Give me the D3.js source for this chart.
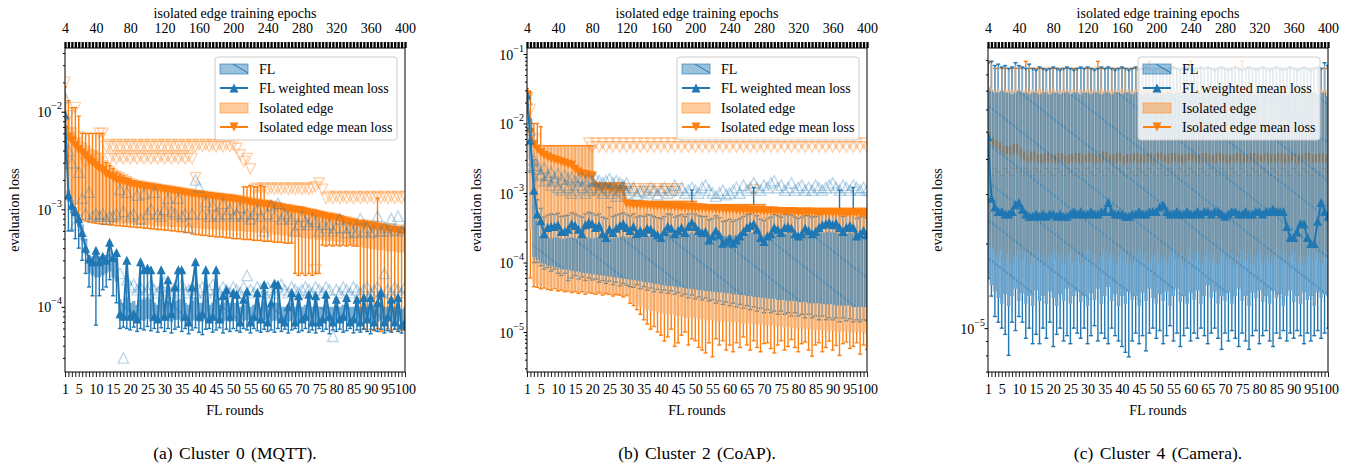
<!DOCTYPE html>
<html>
<head>
<meta charset="utf-8">
<script src="https://cdn.jsdelivr.net/npm/d3@7/dist/d3.min.js"></script>
<style>
  html,body{margin:0;padding:0;background:#fff;}
  svg{display:block;}
  text{font-family:"Liberation Serif","Times New Roman",Times,serif;fill:#000;}
</style>
</head>
<body>
<svg id="chart" width="1358" height="466"></svg>
<script>
const N = null;
const rounds = d3.range(1, 101);
const roundTickLabels = [1,5,10,15,20,25,30,35,40,45,50,55,60,65,70,75,80,85,90,95,100];
const epochTickLabels = [4,40,80,120,160,200,240,280,320,360,400];
const epochTicks = d3.range(4, 401, 4);
const legendLabels = ["FL","FL weighted mean loss","Isolated edge","Isolated edge mean loss"];
const captions = ["(a) Cluster 0 (MQTT).","(b) Cluster 2 (CoAP).","(c) Cluster 4 (Camera)."];

/* ---------------- Cluster 0 (MQTT) ---------------- */
const a_flMean = [9.3e-3,1.4e-3,1.1e-3,9.5e-4,8e-4,5.8e-4,4e-4,3.1e-4,2.9e-4,3.8e-4,
2.9e-4,3.3e-4,3e-4,4.6e-4,3.2e-4,3.6e-4,8.5e-5,8e-5,3e-4,8e-5,
8.5e-5,7.5e-5,2.9e-4,2.4e-4,2.5e-4,2.4e-4,8e-5,7.5e-5,2.4e-4,8e-5,
1.9e-4,8.5e-5,1.6e-4,2.4e-4,2.4e-4,8e-5,7e-5,1.6e-4,2.9e-4,8e-5,
8.5e-5,2.4e-4,7.5e-5,8e-5,2.4e-4,7.5e-5,1.3e-4,1.5e-4,8e-5,1.4e-4,
1.35e-4,7e-5,1.2e-4,1.45e-4,7e-5,8e-5,1.4e-4,7.5e-5,1.7e-4,7e-5,
1.1e-4,1.75e-4,1.7e-4,7.5e-5,7e-5,1e-4,1.4e-4,7e-5,1.3e-4,7.5e-5,
8e-5,1.35e-4,7e-5,1.3e-4,7e-5,7.5e-5,1.35e-4,8e-5,7e-5,1.2e-4,
7.5e-5,8e-5,1.25e-4,7e-5,7.5e-5,1.2e-4,7e-5,1.25e-4,7.5e-5,1.25e-4,
7e-5,1.1e-4,1.4e-4,7e-5,8e-5,1.2e-4,7e-5,1.25e-4,6.5e-5,7e-5];
const a_flErrLo = [4e-3,6e-4,6e-4,5e-4,4e-4,3e-4,2.2e-4,1.6e-4,1.3e-4,6.5e-5,
1.3e-4,1.5e-4,1.6e-4,1.9e-4,1.3e-4,1.1e-4,6e-5,6.2e-5,6e-5,5.8e-5,
6.2e-5,5.6e-5,6e-5,5.8e-5,6.3e-5,5.7e-5,6e-5,5.5e-5,6.1e-5,5.6e-5,
6e-5,5.4e-5,5.9e-5,6.2e-5,5.6e-5,6e-5,5.3e-5,5.8e-5,6.1e-5,5.5e-5,
5.2e-5,5.9e-5,6e-5,5.5e-5,5.8e-5,6.1e-5,5.4e-5,5.9e-5,5.6e-5,6e-5,
5.7e-5,5.5e-5,6e-5,5.8e-5,5.4e-5,6e-5,5.7e-5,5.5e-5,5.9e-5,5.6e-5,
5.8e-5,5.5e-5,6e-5,5.6e-5,5.9e-5,5.4e-5,5.8e-5,6e-5,5.5e-5,5.7e-5,
6e-5,5.5e-5,5.8e-5,5.4e-5,6e-5,5.6e-5,5.9e-5,5.3e-5,5.8e-5,5.6e-5,
5.9e-5,5.5e-5,5.7e-5,6e-5,5.4e-5,5.8e-5,5.5e-5,5.9e-5,5.6e-5,5.3e-5,
5.8e-5,5.6e-5,5.9e-5,5.4e-5,5.7e-5,5.5e-5,5.9e-5,5.6e-5,5.4e-5,5.8e-5];
const a_flBandLo = [8e-3,1.2e-3,9e-4,8e-4,6.5e-4,4.8e-4,3.5e-4,2.2e-4,2.1e-4,2e-4,
2e-4,2.1e-4,2.2e-4,2.3e-4,2e-4,1.8e-4,7.5e-5,7.2e-5,7.4e-5,7.2e-5,
7.3e-5,7e-5,7.4e-5,7.2e-5,7.5e-5,7.1e-5,7.3e-5,7e-5,7.4e-5,7.2e-5,
7.2e-5,7e-5,7.3e-5,7.4e-5,7.1e-5,7.2e-5,6.9e-5,7.2e-5,7.4e-5,7e-5,
7.1e-5,7.3e-5,7e-5,7.2e-5,7.3e-5,7e-5,7.1e-5,7.3e-5,7e-5,7.2e-5,
7.1e-5,6.9e-5,7.2e-5,7.3e-5,6.9e-5,7.1e-5,7.2e-5,7e-5,7.3e-5,6.9e-5,
7.1e-5,7.2e-5,7.2e-5,7e-5,6.9e-5,7.1e-5,7.2e-5,6.9e-5,7.1e-5,7e-5,
7.1e-5,7.2e-5,6.9e-5,7.1e-5,6.9e-5,7e-5,7.2e-5,7e-5,6.9e-5,7.1e-5,
7e-5,7.1e-5,7.2e-5,6.9e-5,7e-5,7.1e-5,6.9e-5,7.2e-5,7e-5,7.1e-5,
6.9e-5,7e-5,7.2e-5,6.9e-5,7e-5,7.1e-5,6.9e-5,7.1e-5,6.6e-5,6.9e-5];
const a_flBandHi = [1e-2,1.6e-3,1.25e-3,1.05e-3,9e-4,7e-4,5e-4,3.4e-4,3.3e-4,3.4e-4,
3.3e-4,3.4e-4,3.4e-4,3.5e-4,3.3e-4,3.1e-4,1.2e-4,1.1e-4,1.25e-4,1.1e-4,
1.15e-4,1.05e-4,1.2e-4,1.2e-4,1.25e-4,1.2e-4,1.1e-4,1.05e-4,1.2e-4,1.1e-4,
1.15e-4,1.1e-4,1.15e-4,1.2e-4,1.2e-4,1.1e-4,1.05e-4,1.15e-4,1.25e-4,1.1e-4,
1.1e-4,1.2e-4,1.05e-4,1.1e-4,1.2e-4,1.05e-4,1.1e-4,1.15e-4,1.1e-4,1.1e-4,
1.1e-4,1e-4,1.05e-4,1.1e-4,1e-4,1.05e-4,1.1e-4,1e-4,1.1e-4,1e-4,
1.05e-4,1.1e-4,1.1e-4,1e-4,1e-4,1.05e-4,1.1e-4,1e-4,1.05e-4,1e-4,
1.05e-4,1.1e-4,1e-4,1.05e-4,1e-4,1e-4,1.05e-4,1e-4,1e-4,1.05e-4,
1e-4,1.05e-4,1.05e-4,1e-4,1e-4,1.05e-4,1e-4,1.05e-4,1e-4,1.05e-4,
1e-4,1.05e-4,1.1e-4,1e-4,1e-4,1.05e-4,1e-4,1.05e-4,9.5e-5,1e-4];
const a_flPts1 = [1.4e-2,4e-3,3e-3,7e-4,2.4e-3,1.3e-3,9e-4,1.5e-3,8.5e-4,9e-4,
8.5e-4,9e-4,8e-4,8.5e-4,8.5e-4,9e-4,1.6e-3,9.5e-4,1.5e-3,8.5e-4,
9e-4,1.4e-3,8e-4,1.45e-3,9e-4,1e-3,1.5e-3,9e-4,8.5e-4,1e-3,
1.3e-3,9.5e-4,9e-4,1.3e-3,8.5e-4,9e-4,6.5e-4,9e-4,2e-3,1.7e-3,
9e-4,1.2e-3,8.5e-4,1.1e-3,9e-4,8.5e-4,1.15e-3,9e-4,1e-3,8.5e-4,
9e-4,1.05e-3,8.5e-4,9e-4,8e-4,9e-4,1e-3,8.5e-4,6e-4,9e-4,
1.1e-3,8.5e-4,1.15e-3,8e-4,9e-4,8.5e-4,8e-4,6e-4,7e-4,8.5e-4,
7.5e-4,7e-4,8e-4,7.5e-4,6e-4,7e-4,6.5e-4,7e-4,6e-4,6.5e-4,
8e-4,6.5e-4,5.8e-4,6.5e-4,6e-4,5.8e-4,8e-4,6e-4,6.5e-4,5.8e-4,
6e-4,8.5e-4,6e-4,6.5e-4,6e-4,8e-4,6.2e-4,8.5e-4,6e-4,6.5e-4];
const a_flPts2 = [N,N,N,N,N,N,N,N,N,N,
N,N,N,N,N,N,2.2e-4,3e-5,1.9e-4,1.6e-4,
1.7e-4,1.5e-4,1.6e-4,1.4e-4,1.5e-4,1.7e-4,1.5e-4,1.4e-4,1.6e-4,1.8e-4,
1.5e-4,1.4e-4,1.6e-4,1.5e-4,1.7e-4,1.4e-4,1.5e-4,1.6e-4,1.4e-4,1.5e-4,
1.6e-4,1.4e-4,1.5e-4,1.7e-4,1.5e-4,1.4e-4,1.6e-4,1.5e-4,1.4e-4,1.6e-4,
1.5e-4,1.4e-4,1.6e-4,2.1e-4,1.5e-4,1.4e-4,1.6e-4,1.5e-4,1.4e-4,1.6e-4,
1.5e-4,1.4e-4,1.6e-4,1.7e-4,1.5e-4,1.4e-4,1.6e-4,1.5e-4,1.4e-4,1.5e-4,
1.6e-4,1.5e-4,1.4e-4,1.6e-4,1.5e-4,1.4e-4,1.6e-4,1.5e-4,5e-5,1.5e-4,
1.4e-4,1.6e-4,1.5e-4,1.4e-4,1.6e-4,1.5e-4,1.4e-4,1.5e-4,1.6e-4,1.4e-4,
1.5e-4,1.6e-4,1.4e-4,2.2e-4,1.5e-4,1.4e-4,1.6e-4,1.5e-4,1.4e-4,1.6e-4];
const a_edgeMean = [6.5e-3,5.5e-3,5e-3,4.5e-3,4.1e-3,3.8e-3,3.5e-3,3.2e-3,3e-3,2.8e-3,
2.6e-3,2.5e-3,2.3e-3,2.2e-3,2.1e-3,2e-3,1.95e-3,1.9e-3,1.85e-3,1.8e-3,
1.78e-3,1.75e-3,1.72e-3,1.7e-3,1.68e-3,1.66e-3,1.64e-3,1.62e-3,1.6e-3,1.58e-3,
1.56e-3,1.54e-3,1.52e-3,1.5e-3,1.48e-3,1.46e-3,1.44e-3,1.42e-3,1.41e-3,1.4e-3,
1.38e-3,1.36e-3,1.35e-3,1.33e-3,1.32e-3,1.31e-3,1.3e-3,1.28e-3,1.27e-3,1.26e-3,
1.24e-3,1.22e-3,1.2e-3,1.18e-3,1.16e-3,1.15e-3,1.13e-3,1.12e-3,1.11e-3,1.1e-3,
1.08e-3,1.06e-3,1.05e-3,1.03e-3,1.01e-3,1e-3,9.8e-4,9.7e-4,9.6e-4,9.5e-4,
9.3e-4,9.1e-4,9e-4,8.8e-4,8.6e-4,8.5e-4,8.3e-4,8.2e-4,8.1e-4,8e-4,
7.8e-4,7.6e-4,7.4e-4,7.3e-4,7.2e-4,7e-4,6.9e-4,6.9e-4,6.8e-4,6.7e-4,
6.6e-4,6.5e-4,6.4e-4,6.3e-4,6.2e-4,6.1e-4,6e-4,6e-4,5.9e-4,5.8e-4];
const a_edgeBandLo = [2.5e-3,1.6e-3,1.3e-3,1.1e-3,9.5e-4,8.5e-4,8e-4,7.8e-4,7.6e-4,7.5e-4,
7.4e-4,7.4e-4,7.3e-4,7.3e-4,7.2e-4,7.2e-4,7.2e-4,7.1e-4,7.1e-4,7e-4,
7e-4,7e-4,6.9e-4,6.9e-4,6.9e-4,6.8e-4,6.8e-4,6.8e-4,6.7e-4,6.7e-4,
6.7e-4,6.6e-4,6.6e-4,6.6e-4,6.5e-4,6.5e-4,6.5e-4,6.4e-4,6.4e-4,6.4e-4,
6.3e-4,6.3e-4,6.3e-4,6.2e-4,6.2e-4,6.2e-4,6.1e-4,6.1e-4,6.1e-4,6e-4,
6e-4,6e-4,5.9e-4,5.9e-4,5.9e-4,5.8e-4,5.8e-4,5.7e-4,5.7e-4,5.6e-4,
5.6e-4,5.5e-4,5.5e-4,5.4e-4,5.4e-4,5.3e-4,5.3e-4,5.2e-4,5.2e-4,5.1e-4,
5.1e-4,5e-4,5e-4,4.9e-4,4.9e-4,4.8e-4,4.8e-4,4.7e-4,4.7e-4,4.6e-4,
4.6e-4,4.5e-4,4.5e-4,4.4e-4,4.3e-4,4.2e-4,4.1e-4,4e-4,4e-4,3.9e-4,
3.9e-4,3.8e-4,3.8e-4,3.8e-4,3.7e-4,3.7e-4,3.7e-4,3.6e-4,3.6e-4,3.6e-4];
const a_edgeBandHi = [1.5e-2,9e-3,7e-3,6e-3,5.5e-3,5e-3,4.8e-3,4.5e-3,4.2e-3,4e-3,
3.8e-3,3.5e-3,3.2e-3,3e-3,2.8e-3,2.6e-3,2.5e-3,2.4e-3,2.3e-3,2.2e-3,
2.1e-3,2.05e-3,2e-3,1.98e-3,1.95e-3,1.92e-3,1.9e-3,1.88e-3,1.85e-3,1.82e-3,
1.8e-3,1.78e-3,1.75e-3,1.73e-3,1.7e-3,1.68e-3,1.66e-3,1.64e-3,1.62e-3,1.6e-3,
1.58e-3,1.57e-3,1.55e-3,1.53e-3,1.52e-3,1.5e-3,1.49e-3,1.47e-3,1.46e-3,1.45e-3,
1.43e-3,1.41e-3,1.39e-3,1.37e-3,1.35e-3,1.33e-3,1.31e-3,1.3e-3,1.28e-3,1.27e-3,
1.25e-3,1.23e-3,1.21e-3,1.19e-3,1.17e-3,1.15e-3,1.13e-3,1.12e-3,1.1e-3,1.09e-3,
1.07e-3,1.05e-3,1.04e-3,1.02e-3,1e-3,9.8e-4,9.6e-4,9.5e-4,9.4e-4,9.2e-4,
9e-4,8.8e-4,8.6e-4,8.5e-4,8.3e-4,8.1e-4,8e-4,8e-4,7.9e-4,7.8e-4,
7.7e-4,7.6e-4,7.5e-4,7.4e-4,7.3e-4,7.2e-4,7.1e-4,7e-4,7e-4,6.9e-4];
const a_edgeErrLo = [3e-3,1.5e-3,1e-3,9e-4,8e-4,7.8e-4,7.6e-4,7.4e-4,7.3e-4,7.2e-4,
7.1e-4,7e-4,7e-4,6.9e-4,6.9e-4,6.8e-4,6.8e-4,6.7e-4,6.7e-4,6.6e-4,
6.6e-4,6.5e-4,6.5e-4,6.4e-4,6.4e-4,6.3e-4,6.3e-4,6.2e-4,6.2e-4,6.1e-4,
6.1e-4,6e-4,6e-4,5.9e-4,5.9e-4,5.8e-4,5.8e-4,5.6e-4,5.5e-4,5.5e-4,
5.4e-4,5.4e-4,5.3e-4,5.3e-4,5.2e-4,5.2e-4,5.2e-4,5.1e-4,5.1e-4,5e-4,
5e-4,5e-4,4.9e-4,4.9e-4,4.9e-4,4.8e-4,4.8e-4,4.8e-4,4.7e-4,4.7e-4,
4.7e-4,4.6e-4,4.6e-4,4.6e-4,4.5e-4,4.5e-4,4.5e-4,2.2e-4,2.1e-4,2.2e-4,
2.1e-4,2.2e-4,2.1e-4,2.2e-4,2.2e-4,4.3e-4,4.2e-4,4.3e-4,4.2e-4,4.3e-4,
4.2e-4,4.3e-4,4.2e-4,4.3e-4,4.2e-4,4.2e-4,5.8e-5,6e-5,5.6e-5,5.9e-5,
5.7e-5,6e-5,5.6e-5,5.8e-5,6e-5,5.7e-5,5.9e-5,5.6e-5,5.8e-5,6e-5];
const a_edgeErrHi = [1.8e-2,1.3e-2,1.1e-2,1.1e-2,9e-3,6e-3,6e-3,6e-3,6e-3,6e-3,
6e-3,6e-3,3e-3,2.8e-3,2.6e-3,2.4e-3,2.3e-3,2.2e-3,2.1e-3,2.05e-3,
1.95e-3,1.92e-3,1.9e-3,1.87e-3,1.85e-3,1.83e-3,1.8e-3,1.78e-3,1.76e-3,1.74e-3,
1.72e-3,1.7e-3,1.67e-3,1.65e-3,1.63e-3,1.6e-3,1.58e-3,1.56e-3,1.55e-3,1.54e-3,
1.52e-3,1.5e-3,1.48e-3,1.46e-3,1.45e-3,1.44e-3,1.43e-3,1.41e-3,1.4e-3,1.39e-3,
1.37e-3,1.35e-3,1.7e-3,1.7e-3,1.75e-3,1.7e-3,1.7e-3,1.75e-3,1.7e-3,1.22e-3,
1.2e-3,1.17e-3,1.15e-3,1.13e-3,1.11e-3,1.1e-3,1.08e-3,1.07e-3,1.06e-3,1.05e-3,
1.03e-3,1e-3,9.9e-4,9.7e-4,9.5e-4,9.4e-4,9.1e-4,9e-4,8.9e-4,8.8e-4,
8.6e-4,8.4e-4,8.1e-4,8e-4,7.9e-4,7.7e-4,7.6e-4,7.6e-4,7.5e-4,7.4e-4,
7.3e-4,1.3e-3,7e-4,6.9e-4,6.8e-4,6.7e-4,6.6e-4,6.6e-4,6.5e-4,6.4e-4];
const a_edgePts1 = [2e-2,9e-3,6e-3,1.1e-2,5.5e-3,3.5e-3,3e-3,3.2e-3,3.5e-3,3.3e-3,
6e-3,6e-3,4.4e-3,4.6e-3,4.4e-3,4.6e-3,4.4e-3,4.6e-3,4.4e-3,4.6e-3,
4.4e-3,4.6e-3,4.4e-3,4.6e-3,4.4e-3,4.6e-3,4.4e-3,4.6e-3,4.4e-3,4.6e-3,
4.4e-3,4.6e-3,4.4e-3,4.6e-3,4.4e-3,4.6e-3,4.4e-3,4.6e-3,4.4e-3,4.6e-3,
4.4e-3,4.6e-3,4.4e-3,4.6e-3,4.4e-3,4.6e-3,4.4e-3,4.6e-3,4.4e-3,4.6e-3,
4.2e-3,3.6e-3,3.1e-3,3.3e-3,2.6e-3,1.6e-3,1.65e-3,1.6e-3,1.65e-3,1.6e-3,
1.65e-3,1.6e-3,1.65e-3,1.6e-3,1.65e-3,1.6e-3,1.65e-3,1.6e-3,1.65e-3,1.6e-3,
1.65e-3,1.6e-3,1.65e-3,1.7e-3,1.85e-3,1.6e-3,1.3e-3,1.35e-3,1.3e-3,1.35e-3,
1.3e-3,1.35e-3,1.3e-3,1.35e-3,1.3e-3,1.35e-3,1.3e-3,1.35e-3,1.3e-3,1.35e-3,
1.3e-3,1.35e-3,1.3e-3,1.35e-3,1.3e-3,1.35e-3,1.3e-3,1.35e-3,1.3e-3,1.35e-3];
const a_edgePts2 = [N,N,N,N,N,N,N,N,N,N,
N,N,N,3.3e-3,3.5e-3,3.3e-3,3.5e-3,3.3e-3,3.5e-3,3.3e-3,
3.5e-3,3.3e-3,3.5e-3,3.3e-3,3.5e-3,3.3e-3,3.5e-3,3.3e-3,3.5e-3,3.3e-3,
3.5e-3,3.3e-3,3.5e-3,3.3e-3,3.5e-3,3.3e-3,3.5e-3,3.3e-3,2.1e-3,N,
N,N,N,N,N,N,N,N,N,N,
N,N,N,N,N,N,N,N,N,N,
N,N,N,N,N,N,N,N,N,N,
N,N,N,2.4e-4,N,N,N,N,N,N,
N,N,N,N,N,N,N,N,N,N,
N,N,N,N,N,N,N,N,N,N];

/* ---------------- Cluster 2 (CoAP) ---------------- */
const b_flMean = [2.6e-2,5.8e-3,1.1e-3,5e-4,4e-4,2.6e-4,3.2e-4,3.3e-4,3.3e-4,3.5e-4,
2.8e-4,2.8e-4,3e-4,3.6e-4,3.4e-4,3e-4,2.6e-4,3.5e-4,3.8e-4,3.6e-4,
3.2e-4,3.4e-4,2.6e-4,2.3e-4,3e-4,2.7e-4,3.1e-4,3.4e-4,3.6e-4,3.2e-4,
2.9e-4,3.3e-4,2.6e-4,2.9e-4,2.7e-4,3.1e-4,3e-4,2.7e-4,2.5e-4,2.3e-4,
2.8e-4,3.3e-4,3.1e-4,2.6e-4,2.9e-4,3.2e-4,2.7e-4,3.3e-4,3.8e-4,3.3e-4,
2.9e-4,2.7e-4,2.8e-4,2.1e-4,2.4e-4,2.9e-4,2.5e-4,1.9e-4,2e-4,2.2e-4,
1.9e-4,2.1e-4,2.4e-4,2.8e-4,3.2e-4,3.4e-4,3.6e-4,3e-4,2.3e-4,2e-4,
2.4e-4,2.6e-4,3.2e-4,3e-4,2.7e-4,3.2e-4,3.3e-4,3.1e-4,2.6e-4,2.4e-4,
2.6e-4,3.1e-4,2.9e-4,2.6e-4,2.8e-4,3.2e-4,3.5e-4,3.6e-4,3.8e-4,3.5e-4,
3.7e-4,3.2e-4,2.8e-4,3.2e-4,3.4e-4,3.2e-4,2.4e-4,2.6e-4,2.9e-4,2.5e-4];
const b_flErrHi = [3e-2,1e-2,3e-3,8e-4,6e-4,4.5e-4,4.8e-4,5e-4,4.9e-4,5.1e-4,
4.6e-4,4.7e-4,4.8e-4,5.2e-4,5e-4,4.7e-4,4.5e-4,5e-4,5.3e-4,5.1e-4,
4.8e-4,5e-4,4.5e-4,4.3e-4,6.2e-4,4.6e-4,4.8e-4,5e-4,5.2e-4,4.9e-4,
4.7e-4,5e-4,4.5e-4,4.7e-4,4.6e-4,4.9e-4,4.8e-4,4.6e-4,4.4e-4,4.3e-4,
4.6e-4,5e-4,4.9e-4,4.5e-4,4.7e-4,4.9e-4,4.6e-4,5e-4,1.1e-3,5e-4,
4.7e-4,4.6e-4,4.6e-4,4.1e-4,4.3e-4,4.7e-4,4.4e-4,3.9e-4,4e-4,4.2e-4,
3.9e-4,4.1e-4,4.3e-4,4.6e-4,4.9e-4,5e-4,1.2e-3,4.7e-4,4.2e-4,4e-4,
4.3e-4,4.5e-4,4.9e-4,4.7e-4,4.5e-4,4.9e-4,5e-4,4.8e-4,4.5e-4,4.3e-4,
4.5e-4,4.8e-4,4.7e-4,4.5e-4,4.6e-4,4.9e-4,5.1e-4,5.2e-4,5.4e-4,5.1e-4,
5.3e-4,1.1e-3,4.6e-4,4.9e-4,5.1e-4,1.2e-3,4.3e-4,4.5e-4,4.7e-4,4.4e-4];
const b_flErrLo = [1.5e-2,2e-3,1e-4,1e-4,9e-5,8e-5,8.5e-5,7.5e-5,8e-5,7e-5,
6.5e-5,7e-5,5.5e-5,6e-5,6.5e-5,5.8e-5,6.2e-5,5.5e-5,6e-5,5.6e-5,
5.8e-5,5.2e-5,5.5e-5,5e-5,5.4e-5,4.8e-5,5.2e-5,4.6e-5,5e-5,4.7e-5,
4.5e-5,4.4e-5,4.8e-5,4.2e-5,4.5e-5,4e-5,4.3e-5,3.8e-5,4.1e-5,3.7e-5,
4e-5,3.6e-5,3.9e-5,3.5e-5,3.7e-5,3.3e-5,3.5e-5,3.1e-5,3.4e-5,3e-5,
3.2e-5,2.9e-5,3.1e-5,2.8e-5,2.9e-5,2.6e-5,2.8e-5,2.5e-5,2.7e-5,2.4e-5,
2.6e-5,2.3e-5,2.5e-5,2.2e-5,2.4e-5,2.1e-5,2.3e-5,2e-5,2.2e-5,1.9e-5,
2.1e-5,1.9e-5,2e-5,1.8e-5,2e-5,1.8e-5,1.9e-5,1.7e-5,1.9e-5,1.7e-5,
1.8e-5,1.6e-5,1.8e-5,1.6e-5,1.7e-5,1.5e-5,1.7e-5,1.5e-5,1.6e-5,1.5e-5,
1.6e-5,1.4e-5,1.6e-5,1.45e-5,1.55e-5,1.4e-5,1.5e-5,1.4e-5,1.5e-5,1.45e-5];
const b_flBandLo = [1.5e-2,3e-3,1.2e-4,1.1e-4,1e-4,9.5e-5,9e-5,9e-5,8.5e-5,8.5e-5,
8e-5,8e-5,7.8e-5,7.6e-5,7.5e-5,7.4e-5,7.2e-5,7e-5,7e-5,6.8e-5,
6.7e-5,6.6e-5,6.5e-5,6.4e-5,6.3e-5,6.2e-5,6.1e-5,6e-5,5.9e-5,5.8e-5,
5.7e-5,5.6e-5,5.5e-5,5.4e-5,5.3e-5,5.2e-5,5.1e-5,5e-5,4.9e-5,4.8e-5,
4.7e-5,4.6e-5,4.6e-5,4.5e-5,4.4e-5,4.4e-5,4.3e-5,4.2e-5,4.2e-5,4.1e-5,
4e-5,4e-5,3.9e-5,3.9e-5,3.8e-5,3.8e-5,3.7e-5,3.7e-5,3.6e-5,3.6e-5,
3.5e-5,3.5e-5,3.4e-5,3.4e-5,3.3e-5,3.3e-5,3.2e-5,3.2e-5,3.1e-5,3.1e-5,
3e-5,3e-5,3e-5,2.9e-5,2.9e-5,2.9e-5,2.8e-5,2.8e-5,2.8e-5,2.7e-5,
2.7e-5,2.7e-5,2.6e-5,2.6e-5,2.6e-5,2.6e-5,2.5e-5,2.5e-5,2.5e-5,2.5e-5,
2.4e-5,2.4e-5,2.4e-5,2.4e-5,2.4e-5,2.3e-5,2.3e-5,2.3e-5,2.3e-5,2.3e-5];
const b_flBandHi = [2.8e-2,1.2e-2,2e-3,4e-4,2.4e-4,2.3e-4,2.3e-4,2.2e-4,2.3e-4,2.3e-4,
2.2e-4,2.2e-4,2.3e-4,2.3e-4,2.2e-4,2.3e-4,2.2e-4,2.3e-4,2.3e-4,2.2e-4,
2.3e-4,2.3e-4,2.2e-4,2.1e-4,2.3e-4,2.2e-4,2.3e-4,2.3e-4,2.4e-4,2.3e-4,
2.3e-4,2.4e-4,2.2e-4,2.3e-4,2.3e-4,2.4e-4,2.3e-4,2.3e-4,2.2e-4,2.2e-4,
2.5e-4,2.6e-4,2.6e-4,2.5e-4,2.6e-4,2.6e-4,2.5e-4,2.6e-4,2.7e-4,2.6e-4,
2.6e-4,2.5e-4,2.6e-4,2.4e-4,2.5e-4,2.6e-4,2.5e-4,2.4e-4,2.4e-4,2.5e-4,
2.4e-4,2.5e-4,2.5e-4,2.6e-4,2.6e-4,2.7e-4,2.7e-4,2.6e-4,2.5e-4,2.4e-4,
2.5e-4,2.6e-4,2.6e-4,2.6e-4,2.6e-4,2.6e-4,2.7e-4,2.6e-4,2.5e-4,2.5e-4,
2.6e-4,2.6e-4,2.6e-4,2.5e-4,2.6e-4,2.7e-4,2.7e-4,2.7e-4,2.8e-4,2.7e-4,
2.7e-4,2.6e-4,2.6e-4,2.6e-4,2.7e-4,2.6e-4,2.5e-4,2.5e-4,2.6e-4,2.5e-4];
const b_flPts1 = [2.2e-2,8e-3,3e-3,2.5e-3,1.8e-3,1.5e-3,1.6e-3,1.3e-3,1.5e-3,1.2e-3,
1.1e-3,1.3e-3,1.2e-3,1e-3,1.1e-3,1.3e-3,1.2e-3,1e-3,1.1e-3,1.2e-3,
1.3e-3,1.1e-3,1e-3,1.2e-3,1.1e-3,1e-3,9e-4,1.1e-3,1.2e-3,1e-3,
1.1e-3,1.2e-3,9.5e-4,1.05e-3,1.1e-3,1e-3,1.2e-3,1.1e-3,9.5e-4,1.1e-3,
1.2e-3,1e-3,1.1e-3,1.3e-3,1.1e-3,1.2e-3,1e-3,1.1e-3,1.2e-3,1.1e-3,
1e-3,1.2e-3,1.3e-3,1.1e-3,1e-3,9e-4,1e-3,1.1e-3,9.5e-4,1e-3,
1.1e-3,1.2e-3,1e-3,1.3e-3,1.1e-3,1.2e-3,1.4e-3,1.2e-3,1.1e-3,1.3e-3,
1.2e-3,1.4e-3,1.5e-3,1.2e-3,1.3e-3,1.1e-3,1.2e-3,1.4e-3,1.1e-3,1.2e-3,
1.3e-3,1.1e-3,1.2e-3,1.1e-3,1.3e-3,1.2e-3,1.1e-3,1.2e-3,1.3e-3,1.4e-3,
1.2e-3,1.1e-3,1.3e-3,1.2e-3,1.1e-3,1.3e-3,1.2e-3,1.1e-3,1.2e-3,1.1e-3];
const b_flPts2 = [N,N,2.5e-3,2.2e-3,1.9e-3,2.3e-3,1.8e-3,2e-3,1.7e-3,1.9e-3,
1.6e-3,1.8e-3,1.6e-3,1.7e-3,1.5e-3,1.6e-3,1.7e-3,1.5e-3,1.6e-3,1.5e-3,
1.6e-3,1.5e-3,1.4e-3,1.5e-3,1.6e-3,1.4e-3,1.5e-3,1.4e-3,1.3e-3,1.4e-3,
N,N,N,N,N,N,N,N,N,N,
N,N,N,N,N,N,N,N,N,N,
N,N,N,N,N,N,N,N,N,N,
N,N,N,N,N,N,N,N,N,N,
N,N,N,N,N,N,N,N,N,N,
N,N,N,N,N,N,N,N,N,N,
N,N,N,N,N,N,N,N,N,N];
const b_edgeMean = [2.6e-2,7.5e-3,5e-3,4.3e-3,3.8e-3,3.5e-3,3.3e-3,3.1e-3,3e-3,2.9e-3,
2.8e-3,2.7e-3,2.6e-3,2.5e-3,2.2e-3,2e-3,1.9e-3,1.85e-3,1.8e-3,1.75e-3,
1.25e-3,1.22e-3,1.2e-3,1.18e-3,1.17e-3,1.15e-3,1.14e-3,1.12e-3,1.1e-3,7e-4,
6.9e-4,6.8e-4,6.8e-4,6.7e-4,6.7e-4,6.6e-4,6.6e-4,6.5e-4,6.5e-4,6.5e-4,
6.4e-4,6.4e-4,6.4e-4,6.3e-4,6.3e-4,6.3e-4,6.2e-4,6.2e-4,6.2e-4,6.1e-4,
6.1e-4,6.1e-4,6e-4,6e-4,6e-4,5.9e-4,5.9e-4,5.9e-4,5.8e-4,5.8e-4,
5.8e-4,5.7e-4,5.7e-4,5.7e-4,5.7e-4,5.6e-4,5.6e-4,5.6e-4,5.6e-4,5.5e-4,
5.5e-4,5.5e-4,5.5e-4,5.4e-4,5.4e-4,5.4e-4,5.4e-4,5.4e-4,5.3e-4,5.3e-4,
5.3e-4,5.3e-4,5.3e-4,5.3e-4,5.2e-4,5.2e-4,5.2e-4,5.2e-4,5.2e-4,5.2e-4,
5.2e-4,5.1e-4,5.1e-4,5.1e-4,5.1e-4,5.1e-4,5.1e-4,5.1e-4,5e-4,5e-4];
const b_edgeBandHi = [3e-2,1.2e-2,4.8e-3,4.8e-3,4.8e-3,4.8e-3,4.8e-3,4.8e-3,4.8e-3,4.8e-3,
4.8e-3,4.8e-3,4.8e-3,4.8e-3,4.8e-3,4.8e-3,4.8e-3,4.8e-3,4.8e-3,4.8e-3,
1.4e-3,1.4e-3,1.4e-3,1.4e-3,1.4e-3,1.4e-3,1.4e-3,1.4e-3,1.4e-3,8e-4,
8e-4,8e-4,8e-4,8e-4,8e-4,8e-4,8e-4,8e-4,8e-4,8e-4,
8e-4,8e-4,8e-4,8e-4,8e-4,8e-4,8e-4,8e-4,8e-4,8e-4,
7e-4,7e-4,7e-4,7e-4,7e-4,7e-4,7e-4,7e-4,7e-4,7e-4,
7e-4,7e-4,7e-4,7e-4,7e-4,7e-4,7e-4,7e-4,7e-4,7e-4,
6.2e-4,6.2e-4,6.2e-4,6.2e-4,6.2e-4,6.2e-4,6.2e-4,6.2e-4,6.2e-4,6.2e-4,
6.2e-4,6.2e-4,6.2e-4,6.2e-4,6.2e-4,6.2e-4,6.2e-4,6.2e-4,6.2e-4,6.2e-4,
6.2e-4,6.2e-4,6.2e-4,6.2e-4,6.2e-4,6.2e-4,6.2e-4,6.2e-4,6.2e-4,6.2e-4];
const b_edgeBandLo = [2e-2,3e-4,5e-5,4.8e-5,4.6e-5,4.5e-5,4.4e-5,4.3e-5,4.2e-5,4.1e-5,
4e-5,4e-5,3.9e-5,3.9e-5,3.8e-5,3.8e-5,3.7e-5,3.7e-5,3.6e-5,3.6e-5,
3.5e-5,3.5e-5,3.5e-5,3.4e-5,3.4e-5,3.4e-5,3.3e-5,3.3e-5,3.3e-5,3.2e-5,
2.8e-5,2.6e-5,2.4e-5,2.3e-5,2.2e-5,2.1e-5,2e-5,2e-5,1.9e-5,1.9e-5,
1.8e-5,1.8e-5,1.8e-5,1.7e-5,1.7e-5,1.7e-5,1.6e-5,1.6e-5,1.6e-5,1.6e-5,
1.5e-5,1.55e-5,1.5e-5,1.45e-5,1.5e-5,1.45e-5,1.4e-5,1.45e-5,1.4e-5,1.4e-5,
1.35e-5,1.4e-5,1.35e-5,1.3e-5,1.35e-5,1.3e-5,1.3e-5,1.25e-5,1.3e-5,1.25e-5,
1.25e-5,1.2e-5,1.25e-5,1.2e-5,1.2e-5,1.15e-5,1.2e-5,1.15e-5,1.15e-5,1.1e-5,
1.15e-5,1.1e-5,1.1e-5,1.1e-5,1.05e-5,1.1e-5,1.05e-5,1.05e-5,1e-5,1.05e-5,
1e-5,1e-5,1.05e-5,1e-5,1e-5,9.8e-6,1e-5,9.8e-6,9.8e-6,9.5e-6];
const b_edgeErrHi = [3.2e-2,2.8e-2,1e-2,1e-2,9e-3,4.8e-3,4.8e-3,4.8e-3,4.8e-3,4.8e-3,
4.8e-3,4.8e-3,4.8e-3,4.8e-3,4.8e-3,4.8e-3,4.8e-3,4.8e-3,4.8e-3,4.8e-3,
1.4e-3,1.4e-3,1.4e-3,1.4e-3,1.4e-3,1.4e-3,1.4e-3,1.4e-3,1.4e-3,7.5e-4,
7.5e-4,7.5e-4,7.5e-4,7.5e-4,7.5e-4,7.5e-4,7.5e-4,7.5e-4,7.5e-4,7.5e-4,
7.5e-4,7.5e-4,7.5e-4,7.5e-4,7.5e-4,7.5e-4,7.5e-4,7.5e-4,7.5e-4,7.5e-4,
6.8e-4,6.8e-4,6.8e-4,6.8e-4,6.8e-4,6.8e-4,6.8e-4,6.8e-4,6.8e-4,6.8e-4,
6.8e-4,6.8e-4,6.8e-4,6.8e-4,6.8e-4,6.8e-4,6.8e-4,6.8e-4,6.8e-4,6.8e-4,
6e-4,6e-4,6e-4,6e-4,6e-4,6e-4,6e-4,6e-4,6e-4,6e-4,
6e-4,6e-4,6e-4,6e-4,6e-4,6e-4,6e-4,6e-4,6e-4,6e-4,
6e-4,6e-4,6e-4,6e-4,6e-4,6e-4,6e-4,6e-4,6e-4,6e-4];
const b_edgeErrLo = [2e-2,6e-5,4.5e-5,4.4e-5,4.2e-5,4.3e-5,4.1e-5,4e-5,4.2e-5,3.9e-5,
4e-5,3.8e-5,3.9e-5,3.7e-5,3.8e-5,3.6e-5,3.8e-5,3.5e-5,3.7e-5,3.6e-5,
3.5e-5,3.7e-5,3.4e-5,3.6e-5,3.5e-5,3.3e-5,3.5e-5,3.4e-5,3.2e-5,3.4e-5,
2.6e-5,2.4e-5,2.1e-5,1.8e-5,1.5e-5,1.3e-5,1.1e-5,1.2e-5,1e-5,9e-6,
7.4e-6,8.5e-6,1.1e-5,6.2e-6,7e-6,9e-6,1e-5,6.5e-6,8e-6,7.5e-6,
6e-6,5.5e-6,5e-6,7e-6,4.4e-6,8e-6,6.5e-6,7.5e-6,5.5e-6,6.5e-6,
5.2e-6,7e-6,6e-6,8.5e-6,6.5e-6,5.5e-6,7.5e-6,6e-6,5.2e-6,6.8e-6,
7e-6,5.8e-6,5e-6,6.5e-6,7.5e-6,5.5e-6,6.2e-6,7.8e-6,6e-6,5.2e-6,
6.8e-6,7.2e-6,5.5e-6,4.5e-6,6.5e-6,7e-6,5.2e-6,6e-6,7.4e-6,5.5e-6,
6.4e-6,4.6e-6,6.8e-6,7.2e-6,5.8e-6,6.2e-6,7e-6,4.8e-6,6.5e-6,5.6e-6];
const b_edgePts1 = [2.2e-2,1.6e-2,6e-3,N,N,N,N,N,N,N,
N,N,N,N,N,N,N,N,5.2e-3,4.6e-3,
5.2e-3,4.6e-3,5.2e-3,4.6e-3,5.2e-3,4.6e-3,5.2e-3,4.6e-3,5.2e-3,4.6e-3,
5.2e-3,4.6e-3,5.2e-3,4.6e-3,5.2e-3,4.6e-3,5.2e-3,4.6e-3,5.2e-3,4.6e-3,
5.2e-3,4.6e-3,5.2e-3,4.6e-3,5.2e-3,4.6e-3,5.2e-3,4.6e-3,5.2e-3,4.6e-3,
5.2e-3,4.6e-3,5.2e-3,4.6e-3,5.2e-3,4.6e-3,5.2e-3,4.6e-3,5.2e-3,4.6e-3,
5.2e-3,4.6e-3,5.2e-3,4.6e-3,5.2e-3,4.6e-3,5.2e-3,4.6e-3,5.2e-3,4.6e-3,
5.2e-3,4.6e-3,5.2e-3,4.6e-3,5.2e-3,4.6e-3,5.2e-3,4.6e-3,5.2e-3,4.6e-3,
5.2e-3,4.6e-3,5.2e-3,4.6e-3,5.2e-3,4.6e-3,5.2e-3,4.6e-3,5.2e-3,4.6e-3,
5.2e-3,4.6e-3,5.2e-3,4.6e-3,5.2e-3,4.6e-3,5.2e-3,4.6e-3,5.2e-3,4.6e-3];
const b_edgePts2 = [N,N,N,N,N,N,N,N,N,N,
N,N,N,N,N,N,N,N,N,1.05e-3,
1.15e-3,1.05e-3,1.15e-3,1.05e-3,1.15e-3,1.05e-3,1.15e-3,1.05e-3,1.15e-3,1.05e-3,
1.15e-3,1.05e-3,1.15e-3,1.05e-3,1.15e-3,1.05e-3,1.15e-3,1.05e-3,1.15e-3,1.05e-3,
1.15e-3,1.05e-3,1.15e-3,1.05e-3,1.15e-3,N,N,N,N,N,
N,N,N,N,N,N,N,N,N,N,
N,N,N,N,N,N,1.1e-3,N,N,N,
N,N,N,N,N,N,N,N,N,N,
N,N,N,N,N,N,N,N,N,N,
N,N,N,N,N,N,N,N,N,N];

/* ---------------- Cluster 4 (Camera) ---------------- */
const c_flMean = [4.8e-5,2.9e-5,2.7e-5,2.6e-5,2.6e-5,2.55e-5,2.55e-5,2.6e-5,2.75e-5,2.8e-5,
2.65e-5,2.55e-5,2.5e-5,2.5e-5,2.55e-5,2.5e-5,2.55e-5,2.5e-5,2.55e-5,2.55e-5,
2.5e-5,2.55e-5,2.5e-5,2.5e-5,2.55e-5,2.6e-5,2.55e-5,2.6e-5,2.55e-5,2.55e-5,
2.6e-5,2.55e-5,2.55e-5,2.6e-5,2.6e-5,2.8e-5,2.6e-5,2.55e-5,2.55e-5,2.55e-5,
2.5e-5,2.5e-5,2.55e-5,2.55e-5,2.6e-5,2.55e-5,2.55e-5,2.6e-5,2.6e-5,2.6e-5,
2.7e-5,2.75e-5,2.6e-5,2.55e-5,2.55e-5,2.6e-5,2.55e-5,2.55e-5,2.6e-5,2.55e-5,
2.55e-5,2.6e-5,2.55e-5,2.6e-5,2.6e-5,2.55e-5,2.6e-5,2.6e-5,2.55e-5,2.5e-5,
2.55e-5,2.6e-5,2.6e-5,2.55e-5,2.55e-5,2.6e-5,2.55e-5,2.55e-5,2.6e-5,2.6e-5,
2.55e-5,2.6e-5,2.6e-5,2.65e-5,2.6e-5,2.6e-5,2.6e-5,2.3e-5,2.1e-5,2.1e-5,
2.2e-5,2.35e-5,2.35e-5,2.1e-5,2e-5,2e-5,2.4e-5,2.8e-5,2.6e-5,2.5e-5];
const c_flErrHi = [8.8e-5,8.9e-5,8.6e-5,8.7e-5,8.5e-5,8.6e-5,8.4e-5,8.5e-5,8.8e-5,8.6e-5,
8.5e-5,8.4e-5,8.7e-5,8.4e-5,8.3e-5,8.5e-5,8.4e-5,8.3e-5,8.4e-5,8.5e-5,
8.4e-5,8.3e-5,8.4e-5,8.5e-5,8.4e-5,8.3e-5,8.4e-5,8.5e-5,8.4e-5,8.5e-5,
8.4e-5,8.3e-5,8.4e-5,8.5e-5,8.4e-5,8.5e-5,8.4e-5,8.3e-5,8.4e-5,8.5e-5,
8.4e-5,8.3e-5,8.4e-5,8.5e-5,8.3e-5,8.4e-5,8.5e-5,8.4e-5,8.3e-5,8.4e-5,
8.5e-5,8.4e-5,8.3e-5,8.4e-5,8.5e-5,8.4e-5,8.3e-5,8.4e-5,8.5e-5,8.4e-5,
8.3e-5,8.4e-5,8.5e-5,8.4e-5,8.5e-5,8.4e-5,8.3e-5,8.4e-5,8.5e-5,8.4e-5,
8.3e-5,8.4e-5,8.5e-5,8.4e-5,8.3e-5,8.4e-5,8.5e-5,8.4e-5,8.3e-5,8.4e-5,
8.5e-5,8.4e-5,8.3e-5,8.4e-5,8.5e-5,8.4e-5,8.3e-5,8.4e-5,8.5e-5,8.4e-5,
8.3e-5,8.4e-5,8.5e-5,8.4e-5,8.3e-5,8.4e-5,8.5e-5,8.4e-5,8.8e-5,8.6e-5];
const c_flErrLo = [1.5e-5,1.3e-5,1.1e-5,1.05e-5,1e-5,9.5e-6,8e-6,1.05e-5,9.8e-6,1.1e-5,
1.05e-5,9.2e-6,1e-5,8.8e-6,9.5e-6,8.8e-6,1e-5,9.2e-6,1.05e-5,8.6e-6,
9.5e-6,1e-5,9e-6,9.4e-6,8.8e-6,1e-5,9.6e-6,9.2e-6,1e-5,8.8e-6,
9.4e-6,1.02e-5,9e-6,9.6e-6,9.2e-6,8.8e-6,1e-5,9.4e-6,9e-6,8.6e-6,
8.2e-6,7.9e-6,9e-6,9.6e-6,8.8e-6,9.4e-6,8.3e-6,9.6e-6,1e-5,9.2e-6,
9.8e-6,8.8e-6,9.4e-6,1.02e-5,9e-6,9.6e-6,8.6e-6,9.4e-6,1e-5,9e-6,
9.6e-6,9.2e-6,1e-5,9.4e-6,8.8e-6,9.6e-6,1e-5,9.2e-6,8.4e-6,9.6e-6,
9e-6,9.8e-6,9.2e-6,8.6e-6,9.6e-6,9e-6,8.4e-6,9.4e-6,9.8e-6,8.8e-6,
9.4e-6,9.8e-6,9e-6,8.6e-6,9.6e-6,9.2e-6,9.8e-6,9e-6,9.6e-6,9.2e-6,
9.8e-6,9.4e-6,8.8e-6,9.6e-6,9e-6,9.4e-6,9.8e-6,9.2e-6,9.6e-6,1e-5];
const c_flBandHi = [7.2e-5,7e-5,6.9e-5,6.9e-5,7e-5,6.9e-5,6.9e-5,6.8e-5,6.9e-5,7e-5,
6.9e-5,6.9e-5,6.8e-5,6.9e-5,6.9e-5,6.8e-5,6.9e-5,6.9e-5,6.8e-5,6.9e-5,
6.9e-5,6.8e-5,6.9e-5,6.9e-5,6.8e-5,6.9e-5,6.9e-5,6.8e-5,6.9e-5,6.9e-5,
6.8e-5,6.9e-5,6.9e-5,6.8e-5,6.9e-5,6.9e-5,6.8e-5,6.9e-5,6.9e-5,6.8e-5,
6.9e-5,6.9e-5,6.8e-5,6.9e-5,6.9e-5,6.8e-5,6.9e-5,6.9e-5,6.8e-5,6.9e-5,
6.9e-5,6.8e-5,6.9e-5,6.9e-5,6.8e-5,6.9e-5,6.9e-5,6.8e-5,6.9e-5,6.9e-5,
6.8e-5,6.9e-5,6.9e-5,6.8e-5,6.9e-5,6.9e-5,6.8e-5,6.9e-5,6.9e-5,6.8e-5,
6.9e-5,6.9e-5,6.8e-5,6.9e-5,6.9e-5,6.8e-5,6.9e-5,6.9e-5,6.8e-5,6.9e-5,
6.9e-5,6.8e-5,6.9e-5,6.9e-5,6.8e-5,6.9e-5,6.9e-5,6.8e-5,6.9e-5,6.9e-5,
6.8e-5,6.9e-5,6.9e-5,6.8e-5,6.9e-5,6.9e-5,6.8e-5,6.9e-5,6.9e-5,6.7e-5];
const c_flBandLo = [1.5e-5,1.42e-5,1.35e-5,1.28e-5,1.22e-5,1.32e-5,1.2e-5,1.3e-5,1.38e-5,1.25e-5,
1.33e-5,1.22e-5,1.3e-5,1.2e-5,1.36e-5,1.25e-5,1.3e-5,1.22e-5,1.35e-5,1.28e-5,
1.2e-5,1.32e-5,1.25e-5,1.38e-5,1.22e-5,1.3e-5,1.35e-5,1.24e-5,1.3e-5,1.2e-5,
1.33e-5,1.26e-5,1.38e-5,1.22e-5,1.3e-5,1.4e-5,1.25e-5,1.32e-5,1.2e-5,1.3e-5,
1.22e-5,1.35e-5,1.26e-5,1.3e-5,1.2e-5,1.34e-5,1.25e-5,1.38e-5,1.28e-5,1.22e-5,
1.32e-5,1.25e-5,1.35e-5,1.2e-5,1.3e-5,1.38e-5,1.24e-5,1.3e-5,1.22e-5,1.34e-5,
1.26e-5,1.36e-5,1.22e-5,1.3e-5,1.42e-5,1.28e-5,1.35e-5,1.22e-5,1.3e-5,1.25e-5,
1.34e-5,1.22e-5,1.3e-5,1.38e-5,1.25e-5,1.3e-5,1.2e-5,1.34e-5,1.28e-5,1.36e-5,
1.24e-5,1.3e-5,1.22e-5,1.36e-5,1.28e-5,1.32e-5,1.2e-5,1.3e-5,1.36e-5,1.24e-5,
1.3e-5,1.22e-5,1.34e-5,1.26e-5,1.3e-5,1.2e-5,1.34e-5,1.28e-5,1.32e-5,1.3e-5];
const c_edgeMean = [4.8e-5,4.6e-5,4.5e-5,4.4e-5,4.3e-5,4.2e-5,4.3e-5,4.2e-5,4.35e-5,4.2e-5,
4.1e-5,4e-5,3.95e-5,4.1e-5,3.95e-5,4e-5,3.9e-5,4.05e-5,3.95e-5,4e-5,
3.9e-5,4.05e-5,3.95e-5,3.9e-5,4e-5,3.95e-5,4.05e-5,3.9e-5,4e-5,3.95e-5,
4.05e-5,3.9e-5,4e-5,3.95e-5,4.1e-5,3.95e-5,4e-5,3.9e-5,4.05e-5,3.95e-5,
3.9e-5,4e-5,3.95e-5,4.05e-5,3.9e-5,4e-5,3.95e-5,4.05e-5,3.9e-5,4e-5,
4.05e-5,3.95e-5,4e-5,3.9e-5,4.05e-5,3.95e-5,4e-5,3.9e-5,4e-5,4.05e-5,
3.95e-5,4e-5,3.9e-5,4.05e-5,3.95e-5,4e-5,3.9e-5,4.05e-5,3.95e-5,4e-5,
3.9e-5,4e-5,3.95e-5,4.05e-5,3.9e-5,4e-5,3.95e-5,4.05e-5,3.9e-5,4e-5,
3.95e-5,4.05e-5,3.9e-5,4e-5,3.95e-5,4.05e-5,3.9e-5,4e-5,3.95e-5,4.05e-5,
3.9e-5,4e-5,3.95e-5,4.05e-5,3.9e-5,4e-5,3.95e-5,4.05e-5,3.9e-5,4e-5];
const c_edgeBandHi = [7.3e-5,7.1e-5,7e-5,7.1e-5,7e-5,7.1e-5,7e-5,7.1e-5,7e-5,7.1e-5,
7e-5,7.1e-5,7e-5,7.1e-5,7e-5,7.1e-5,7e-5,7.1e-5,7e-5,7.1e-5,
7e-5,7.1e-5,7e-5,7.1e-5,7e-5,7.1e-5,7e-5,7.1e-5,7e-5,7.1e-5,
7e-5,7.1e-5,7e-5,7.1e-5,7e-5,7.1e-5,7e-5,7.1e-5,7e-5,7.1e-5,
7e-5,7.1e-5,7e-5,7.1e-5,7e-5,7.1e-5,7e-5,7.1e-5,7e-5,7.1e-5,
7e-5,7.1e-5,7e-5,7.1e-5,7e-5,7.1e-5,7e-5,7.1e-5,7e-5,7.1e-5,
7e-5,7.1e-5,7e-5,7.1e-5,7e-5,7.1e-5,7e-5,7.1e-5,7e-5,7.1e-5,
7e-5,7.1e-5,7e-5,7.1e-5,7e-5,7.1e-5,7e-5,7.1e-5,7e-5,7.1e-5,
7e-5,7.1e-5,7e-5,7.1e-5,7e-5,7.1e-5,7e-5,7.1e-5,7e-5,7.1e-5,
7e-5,7.1e-5,7e-5,7.1e-5,7e-5,7.1e-5,7e-5,7.1e-5,7e-5,7.1e-5];
const c_edgeBandLo = [2.1e-5,1.95e-5,1.85e-5,1.8e-5,1.9e-5,1.75e-5,1.85e-5,1.7e-5,1.8e-5,1.9e-5,
1.75e-5,1.85e-5,1.7e-5,1.8e-5,1.9e-5,1.72e-5,1.82e-5,1.68e-5,1.8e-5,1.9e-5,
1.75e-5,1.85e-5,1.7e-5,1.8e-5,1.88e-5,1.72e-5,1.82e-5,1.7e-5,1.8e-5,1.9e-5,
1.75e-5,1.85e-5,1.68e-5,1.8e-5,1.9e-5,1.75e-5,1.85e-5,1.7e-5,1.8e-5,1.88e-5,
1.72e-5,1.82e-5,1.68e-5,1.8e-5,1.9e-5,1.75e-5,1.85e-5,1.7e-5,1.8e-5,1.88e-5,
1.72e-5,1.82e-5,1.7e-5,1.8e-5,1.9e-5,1.75e-5,1.85e-5,1.68e-5,1.8e-5,1.9e-5,
1.75e-5,1.85e-5,1.7e-5,1.8e-5,1.88e-5,1.72e-5,1.82e-5,1.7e-5,1.8e-5,1.9e-5,
1.75e-5,1.85e-5,1.68e-5,1.8e-5,1.9e-5,1.75e-5,1.85e-5,1.7e-5,1.8e-5,1.88e-5,
1.72e-5,1.82e-5,1.7e-5,1.8e-5,1.9e-5,1.75e-5,1.85e-5,1.7e-5,1.8e-5,1.88e-5,
1.72e-5,1.82e-5,1.68e-5,1.8e-5,1.9e-5,1.75e-5,1.85e-5,1.7e-5,1.8e-5,1.88e-5];
const c_edgeErrHi = [8.9e-5,8.9e-5,8.4e-5,8.4e-5,8.4e-5,8.4e-5,8.4e-5,8.4e-5,8.4e-5,8.4e-5,
8.4e-5,8.9e-5,8.4e-5,8.4e-5,8.4e-5,8.4e-5,8.4e-5,8.4e-5,8.4e-5,8.4e-5,
8.4e-5,8.4e-5,8.4e-5,8.4e-5,8.4e-5,8.4e-5,8.4e-5,8.4e-5,8.4e-5,8.4e-5,
8.4e-5,8.4e-5,8.9e-5,8.4e-5,8.4e-5,8.4e-5,8.4e-5,8.4e-5,8.4e-5,8.4e-5,
8.4e-5,8.4e-5,8.4e-5,8.4e-5,8.4e-5,8.4e-5,8.4e-5,8.9e-5,8.4e-5,8.4e-5,
8.4e-5,8.4e-5,8.4e-5,8.4e-5,8.4e-5,8.4e-5,8.4e-5,8.4e-5,8.4e-5,8.9e-5,
8.4e-5,8.4e-5,8.4e-5,8.4e-5,8.4e-5,8.4e-5,8.4e-5,8.4e-5,8.4e-5,8.4e-5,
8.4e-5,8.4e-5,8.4e-5,8.4e-5,8.9e-5,8.4e-5,8.4e-5,8.4e-5,8.4e-5,8.4e-5,
8.4e-5,8.4e-5,8.4e-5,8.4e-5,8.4e-5,8.4e-5,8.4e-5,8.4e-5,8.4e-5,8.4e-5,
8.4e-5,8.4e-5,8.4e-5,8.4e-5,8.4e-5,8.4e-5,8.4e-5,8.4e-5,8.4e-5,8.4e-5];
const c_edgeErrLo = [3.6e-5,3.5e-5,3.7e-5,3.6e-5,3.5e-5,3.7e-5,3.6e-5,3.5e-5,3.7e-5,3.6e-5,
3.5e-5,3.7e-5,3.6e-5,3.5e-5,3.7e-5,3.6e-5,3.5e-5,3.7e-5,3.6e-5,3.5e-5,
3.7e-5,3.6e-5,3.5e-5,3.7e-5,3.6e-5,3.5e-5,3.7e-5,3.6e-5,3.5e-5,3.7e-5,
3.6e-5,3.5e-5,3.7e-5,3.6e-5,3.5e-5,3.7e-5,3.6e-5,3.5e-5,3.7e-5,3.6e-5,
3.5e-5,3.7e-5,3.6e-5,3.5e-5,3.7e-5,3.6e-5,3.5e-5,3.7e-5,3.6e-5,3.5e-5,
3.7e-5,3.6e-5,3.5e-5,3.7e-5,3.6e-5,3.5e-5,3.7e-5,3.6e-5,3.5e-5,3.7e-5,
3.6e-5,3.5e-5,3.7e-5,3.6e-5,3.5e-5,3.7e-5,3.6e-5,3.5e-5,3.7e-5,3.6e-5,
3.5e-5,3.7e-5,3.6e-5,3.5e-5,3.7e-5,3.6e-5,3.5e-5,3.7e-5,3.6e-5,3.5e-5,
3.7e-5,3.6e-5,3.5e-5,3.7e-5,3.6e-5,3.5e-5,3.7e-5,3.6e-5,3.5e-5,3.7e-5,
3.6e-5,3.5e-5,3.7e-5,3.6e-5,3.5e-5,3.7e-5,3.6e-5,3.5e-5,3.7e-5,3.6e-5];

/* ---------------- drawing ---------------- */
const BLUE = "#1f77b4", ORANGE = "#ff7f0e";
const TOP = 48, BOTTOM = 372, W = 340;
const FONT = '"Liberation Serif","Times New Roman",Times,serif';

const panels = [
  { key:"a", left:65, caption:captions[0], yDomain:[2.15e-5, 4.5e-2], seams:false, seamTopErr:false,
    fl:{mean:a_flMean, errLo:a_flErrLo, errHi:null, bandLo:a_flBandLo, bandHi:a_flBandHi, pts:[a_flPts1,a_flPts2]},
    edge:{mean:a_edgeMean, errLo:a_edgeErrLo, errHi:a_edgeErrHi, bandLo:a_edgeBandLo, bandHi:a_edgeBandHi, pts:[a_edgePts1,a_edgePts2]} },
  { key:"b", left:527, caption:captions[1], yDomain:[2.66e-6, 0.122], seams:true, seamTopErr:false,
    fl:{mean:b_flMean, errLo:b_flErrLo, errHi:b_flErrHi, bandLo:b_flBandLo, bandHi:b_flBandHi, pts:[b_flPts1,b_flPts2]},
    edge:{mean:b_edgeMean, errLo:b_edgeErrLo, errHi:b_edgeErrHi, bandLo:b_edgeBandLo, bandHi:b_edgeBandHi, pts:[b_edgePts1,b_edgePts2]} },
  { key:"c", left:988, caption:captions[2], yDomain:[6.98e-6, 9.93e-5], seams:true, seamTopErr:true,
    fl:{mean:c_flMean, errLo:c_flErrLo, errHi:c_flErrHi, bandLo:c_flBandLo, bandHi:c_flBandHi, pts:[]},
    edge:{mean:c_edgeMean, errLo:c_edgeErrLo, errHi:c_edgeErrHi, bandLo:c_edgeBandLo, bandHi:c_edgeBandHi, pts:[]} }
];

const svg = d3.select("#chart");
const defs = svg.append("defs");
defs.append("pattern").attr("id","hatch").attr("patternUnits","userSpaceOnUse")
  .attr("width",30).attr("height",30).attr("patternTransform","rotate(38)")
  .append("line").attr("x1",0).attr("y1",15).attr("x2",30).attr("y2",15)
  .attr("stroke",BLUE).attr("stroke-width",1.1).attr("stroke-opacity",0.75);

function tri(cx, cy, s, up) {
  const h = s/2;
  return up ? `M${cx},${cy-h}L${cx+h},${cy+h}L${cx-h},${cy+h}Z`
            : `M${cx},${cy+h}L${cx+h},${cy-h}L${cx-h},${cy-h}Z`;
}

function logTicks([lo, hi]) {
  const major = [], minor = [];
  for (let e = Math.floor(Math.log10(lo)); e <= Math.ceil(Math.log10(hi)); e++) {
    for (let k = 1; k < 10; k++) {
      const v = +(k * Math.pow(10, e)).toPrecision(6);
      if (v >= lo && v <= hi) (k === 1 ? major : minor).push(v);
    }
  }
  return {major, minor};
}

panels.forEach((p, idx) => {
  const x = d3.scaleLinear().domain([1,100]).range([p.left, p.left+W]);
  const xe = d3.scaleLinear().domain([4,400]).range([p.left, p.left+W]);
  const y = d3.scaleLog().domain(p.yDomain).range([BOTTOM, TOP]);
  const clipId = "clip" + idx;
  defs.append("clipPath").attr("id", clipId).append("rect")
    .attr("x", p.left).attr("y", TOP).attr("width", W).attr("height", BOTTOM-TOP);
  const g = svg.append("g");
  const plot = g.append("g").attr("clip-path", `url(#${clipId})`);

  function errorBars(s, color) {
    const hiArr = s.errHi || s.mean;
    const data = rounds.map((r,i)=>({r, lo:s.errLo[i], hi:hiArr[i]})).filter(d=>d.lo!=null && d.hi!=null);
    const gg = plot.append("g").attr("stroke", color).attr("stroke-width", 1.4);
    gg.selectAll("line.v").data(data).join("line").attr("class","v")
      .attr("x1", d=>x(d.r)).attr("x2", d=>x(d.r)).attr("y1", d=>y(d.lo)).attr("y2", d=>y(d.hi));
    gg.selectAll("line.cl").data(data).join("line").attr("class","cl")
      .attr("x1", d=>x(d.r)-2).attr("x2", d=>x(d.r)+2).attr("y1", d=>y(d.lo)).attr("y2", d=>y(d.lo));
    gg.selectAll("line.ch").data(data).join("line").attr("class","ch")
      .attr("x1", d=>x(d.r)-2).attr("x2", d=>x(d.r)+2).attr("y1", d=>y(d.hi)).attr("y2", d=>y(d.hi));
  }
  function band(s, color, opacity, hatch) {
    const data = rounds.map((r,i)=>({r, lo:s.bandLo[i], hi:s.bandHi[i]})).filter(d=>d.lo!=null && d.hi!=null);
    const area = d3.area().curve(d3.curveStep).x(d=>x(d.r)).y0(d=>y(d.lo)).y1(d=>y(d.hi));
    plot.append("path").datum(data).attr("d", area).attr("fill", color).attr("fill-opacity", opacity);
    if (hatch) plot.append("path").datum(data).attr("d", area).attr("fill", "url(#hatch)");
  }
  // light seams where an error bar runs through a shaded band
  function seams(s, topErr) {
    const hiArr = s.errHi || s.mean;
    const data = rounds.map((r,i)=>{
      const lo = Math.max(s.errLo[i], s.bandLo[i]);
      const hi = topErr ? hiArr[i] : Math.min(hiArr[i], s.bandHi[i]);
      return {r, lo, hi};
    }).filter(d => d.hi > d.lo);
    plot.append("g").attr("stroke", "#e4e4e4").attr("stroke-opacity", 0.55).attr("stroke-width", 1)
      .selectAll("line").data(data).join("line")
      .attr("x1", d=>x(d.r)).attr("x2", d=>x(d.r))
      .attr("y1", d=>y(d.lo)).attr("y2", d=>y(d.hi) + (topErr ? 2 : 0));
  }
  function meanLine(s, color, up) {
    const pts = rounds.map((r,i)=>({r, v:s.mean[i]})).filter(d=>d.v!=null);
    plot.append("path").datum(pts)
      .attr("d", d3.line().x(d=>x(d.r)).y(d=>y(d.v)))
      .attr("fill","none").attr("stroke", color).attr("stroke-width", 2).attr("stroke-linejoin","round");
    plot.append("g").selectAll("path").data(pts).join("path")
      .attr("d", d=>tri(x(d.r), y(d.v), 9, up)).attr("fill", color);
  }
  function hollow(arrs, color, up, op) {
    arrs.forEach(arr => {
      const pts = rounds.map((r,i)=>({r, v:arr[i]})).filter(d=>d.v!=null);
      plot.append("g").selectAll("path").data(pts).join("path")
        .attr("d", d=>tri(x(d.r), y(d.v), 10.5, up))
        .attr("fill","none").attr("stroke", color).attr("stroke-width", 1.3).attr("stroke-opacity", op);
    });
  }

  errorBars(p.edge, ORANGE);
  errorBars(p.fl, BLUE);
  band(p.edge, ORANGE, 0.4, false);
  if (p.seams) seams(p.edge, false);
  meanLine(p.edge, ORANGE, false);
  band(p.fl, BLUE, 0.6, true);
  if (p.seams) seams(p.fl, p.seamTopErr);
  meanLine(p.fl, BLUE, true);
  hollow(p.edge.pts, ORANGE, false, 0.35);
  hollow(p.fl.pts, BLUE, true, 0.3);

  // frame
  g.append("rect").attr("x", p.left).attr("y", TOP).attr("width", W).attr("height", BOTTOM-TOP)
    .attr("fill","none").attr("stroke","#000").attr("stroke-width",1);

  // bottom axis (FL rounds)
  const ax = g.append("g").attr("transform", `translate(0,${BOTTOM})`)
    .call(d3.axisBottom(x).tickValues(rounds).tickSize(5).tickPadding(7.5)
      .tickFormat(d => roundTickLabels.includes(d) ? d : ""));
  ax.select(".domain").remove();
  ax.attr("font-family", FONT).attr("font-size", 14);
  ax.selectAll(".tick line").attr("stroke-width", 0.9);

  // top axis (epochs)
  const axT = g.append("g").attr("transform", `translate(0,${TOP})`)
    .call(d3.axisTop(xe).tickValues(epochTicks).tickSize(6).tickPadding(9)
      .tickFormat(d => epochTickLabels.includes(d) ? d : ""));
  axT.select(".domain").remove();
  axT.attr("font-family", FONT).attr("font-size", 14);
  axT.selectAll(".tick line").attr("stroke-width", 2.3);

  // left axis (log)
  const lt = logTicks(p.yDomain);
  const axL1 = g.append("g").attr("transform", `translate(${p.left},0)`)
    .call(d3.axisLeft(y).tickValues(lt.minor).tickSize(2).tickFormat(""));
  axL1.select(".domain").remove();
  const axL2 = g.append("g").attr("transform", `translate(${p.left},0)`)
    .call(d3.axisLeft(y).tickValues(lt.major).tickSize(3.5).tickFormat(""));
  axL2.select(".domain").remove();
  lt.major.forEach(v => {
    const e = Math.round(Math.log10(v));
    const t = g.append("text").attr("x", p.left - 3).attr("y", y(v) + 5.5)
      .attr("text-anchor","end").attr("font-size", 14);
    t.append("tspan").text("10");
    t.append("tspan").attr("font-size", 10).attr("dy", -8).text("\u2212" + Math.abs(e));
  });

  // axis titles
  g.append("text").attr("x", p.left + W/2).attr("y", 18).attr("text-anchor","middle")
    .attr("font-size", 14).text("isolated edge training epochs");
  g.append("text").attr("x", p.left + W/2).attr("y", 415).attr("text-anchor","middle")
    .attr("font-size", 14).text("FL rounds");
  g.append("text").attr("transform", `translate(${p.left-46},${(TOP+BOTTOM)/2}) rotate(-90)`)
    .attr("text-anchor","middle").attr("font-size", 14).text("evaluation loss");
  g.append("text").attr("x", p.left + W/2).attr("y", 459).attr("text-anchor","middle")
    .attr("font-size", 17.5).attr("word-spacing", 2).text(p.caption);

  // legend
  const lx = p.left + W - 8 - 182, ly = 57;
  const lg = g.append("g");
  lg.append("rect").attr("x", lx).attr("y", ly).attr("width", 182).attr("height", 83).attr("rx", 3)
    .attr("fill","#fff").attr("fill-opacity",0.8).attr("stroke","#cccccc").attr("stroke-width",1);
  const rows = [ly+12, ly+31, ly+51, ly+70];
  const sx = lx + 5, sw = 28;
  lg.append("rect").attr("x", sx).attr("y", rows[0]-5).attr("width", sw).attr("height", 10)
    .attr("fill", BLUE).attr("fill-opacity", 0.45).attr("stroke", BLUE).attr("stroke-opacity",0.6);
  lg.append("line").attr("x1", sx+13).attr("y1", rows[0]-5).attr("x2", sx+sw).attr("y2", rows[0]+4)
    .attr("stroke", BLUE).attr("stroke-width", 1);
  lg.append("line").attr("x1", sx).attr("x2", sx+sw).attr("y1", rows[1]).attr("y2", rows[1])
    .attr("stroke", BLUE).attr("stroke-width", 2);
  lg.append("path").attr("d", tri(sx+sw/2, rows[1], 9, true)).attr("fill", BLUE);
  lg.append("rect").attr("x", sx).attr("y", rows[2]-5).attr("width", sw).attr("height", 10)
    .attr("fill", ORANGE).attr("fill-opacity", 0.4).attr("stroke", ORANGE).attr("stroke-opacity",0.5);
  lg.append("line").attr("x1", sx).attr("x2", sx+sw).attr("y1", rows[3]).attr("y2", rows[3])
    .attr("stroke", ORANGE).attr("stroke-width", 2);
  lg.append("path").attr("d", tri(sx+sw/2, rows[3], 9, false)).attr("fill", ORANGE);
  legendLabels.forEach((t, i) => {
    lg.append("text").attr("x", lx + 44).attr("y", rows[i] + 5).attr("font-size", 14).text(t);
  });
});
</script>
</body>
</html>
